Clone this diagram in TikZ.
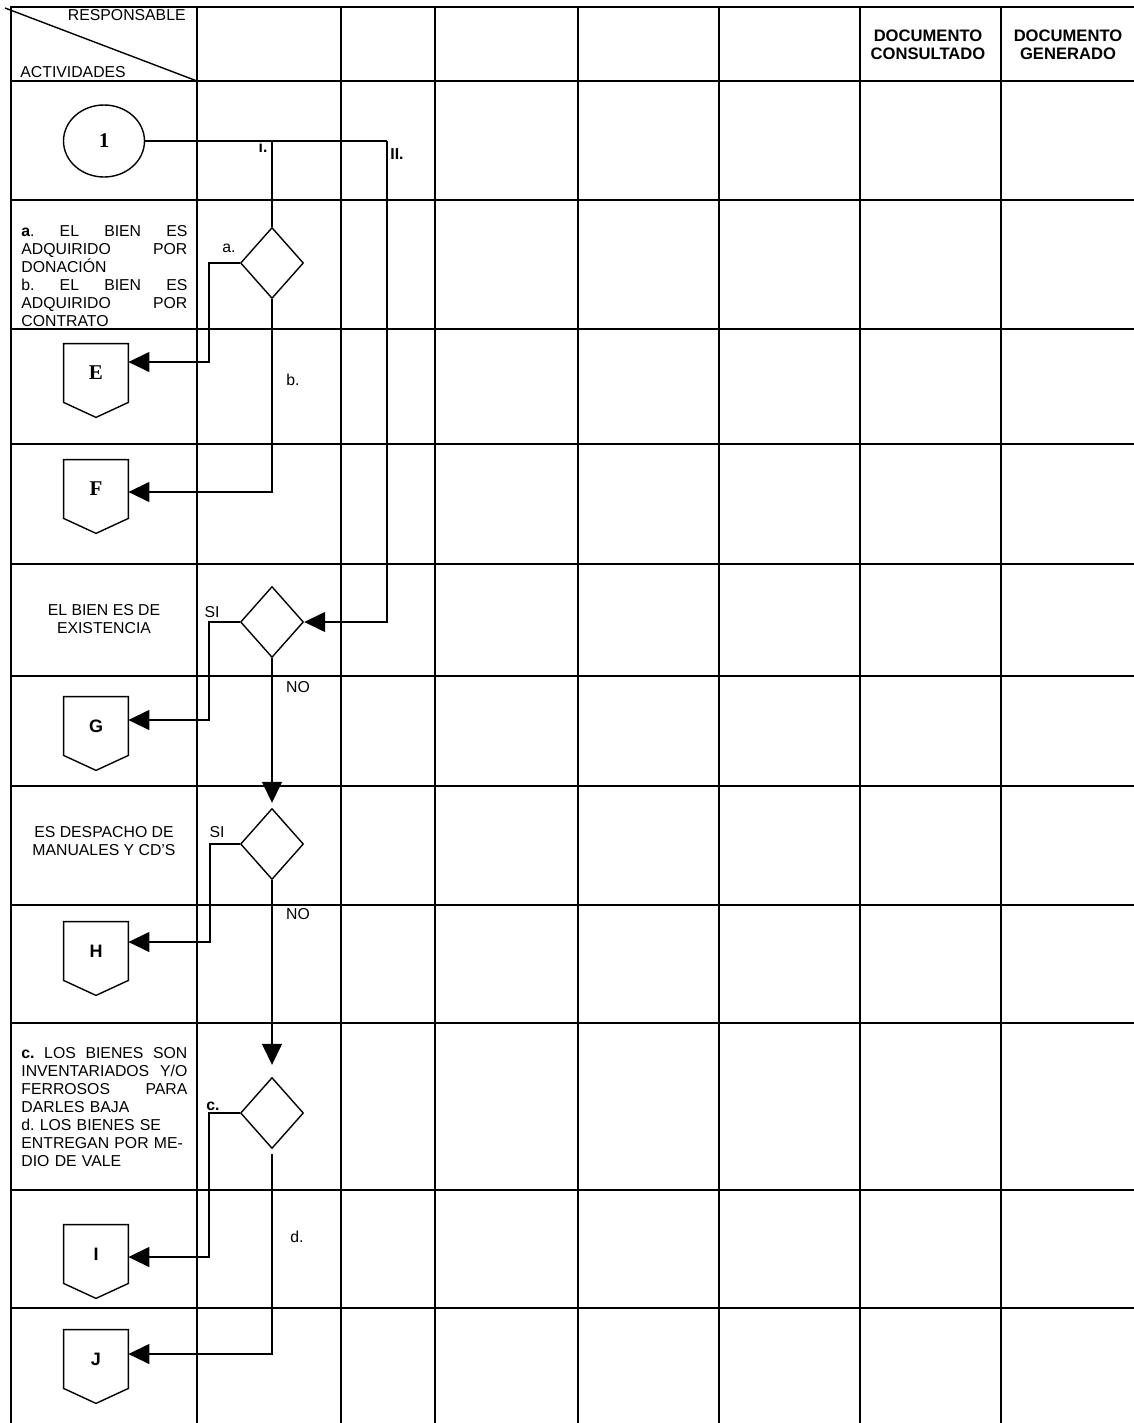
\documentclass[tikz,border=0pt]{standalone}
\usepackage{fontspec}
\setmainfont{Liberation Sans}
\newfontfamily\tnr{Liberation Serif}
\usetikzlibrary{shapes.geometric,arrows.meta}

\tikzset{
  grid/.style={line width=1.1pt},
  flow/.style={line width=0.7pt},
  arr/.style={flow,-{Triangle[length=10.5pt,width=10pt]}},
  decide/.style={diamond,draw,flow,minimum width=31.5pt,minimum height=35.5pt,inner sep=0pt},
  offbox/.style={minimum width=32pt,minimum height=29pt,inner sep=0pt,font=\fontsize{9}{10}\selectfont\bfseries},
  boldtag/.style={font=\fontsize{7.9}{9}\selectfont\bfseries},
}
% off-page connector: box with a point underneath
\newcommand{\offpage}[3]{%
  \node[offbox] (#1) at (#2) {#3};
  \draw[flow] (#1.north west) -- (#1.north east) -- (#1.south east)
    -- ([yshift=-7.5pt]#1.south) -- (#1.south west) -- cycle;}

\begin{document}
\begin{tikzpicture}[x=0.5pt, y=-0.5pt, every node/.style={font=\fontsize{7.9}{9}\selectfont, inner sep=0pt}]
\clip (0,0) rectangle (1134,1423);
% table
\foreach \y in {7,81,200,329,444,564,676,786,905,1023,1190,1308}
  \draw[grid] (10.5,\y) -- (1140,\y);
\foreach \x in {11,197,341,435,578,719,860,1001}
  \draw[grid] (\x,6.5) -- (\x,1430);
\draw[flow] (5,8) -- (197,81);
\node[anchor=east] (resp) at (186,15) {RESPONSABLE};
\node[anchor=west] (act) at (20,72) {ACTIVIDADES};
\node[align=center,font=\fontsize{8.3}{9}\selectfont\bfseries] (dcons) at (928,45) {DOCUMENTO\\CONSULTADO};
\node[align=center,font=\fontsize{8.3}{9}\selectfont\bfseries] (dgen) at (1068,45) {DOCUMENTO\\GENERADO};

% activities
\node[anchor=north west,text width=83pt,align=left] (ta) at (21,225)
  {\textbf{a}.\hfill EL\hfill BIEN\hfill ES\\ ADQUIRIDO\hfill POR\\ DONACIÓN\\
   b.\hfill EL\hfill BIEN\hfill ES\\ ADQUIRIDO\hfill POR\\ CONTRATO};
\node[align=center] (tb) at (104,619) {EL BIEN ES DE\\EXISTENCIA};
\node[align=center] (td) at (104,841) {ES DESPACHO DE\\MANUALES Y CD'S};
\node[anchor=north west,text width=83pt,align=left] (tc) at (21,1047)
  {\textbf{c.}\hfill LOS\hfill BIENES\hfill SON\\ INVENTARIADOS\hfill Y/O\\
   FERROSOS\hfill PARA\\ DARLES BAJA\\ d.\ LOS BIENES SE\\ ENTREGAN POR ME-\\ DIO DE VALE};

% flow
\node[ellipse,draw,flow,minimum width=40.5pt,minimum height=36pt,font=\tnr\bfseries\fontsize{10.5}{11}\selectfont] (c1) at (104,141) {1};
\node[decide] (d1) at (272,263) {};
\node[decide] (d2) at (272,622) {};
\node[decide] (d3) at (272,844) {};
\node[decide] (d4) at (272,1113) {};
\offpage{E}{96,373}{\tnr\fontsize{10.5}{11}\selectfont E}
\offpage{F}{96,489}{\tnr\fontsize{10.5}{11}\selectfont F}
\offpage{G}{96,726}{G}
\offpage{H}{96,951}{H}
\offpage{I}{96,1254}{I}
\offpage{J}{96,1359}{J}

\coordinate (j2) at (387,141);
\draw[flow] (c1.east) -- (j2);
\draw[flow] (d1.north |- c1.east) -- (d1.north);
\draw[arr] (j2) |- (d2.east);
\coordinate (kE) at (209,362);
\draw[arr] (d1.west) -| (kE) -- (E.east |- kE);
\coordinate (kF) at (272,492);
\draw[arr] (d1.south) -- (kF) -- (F.east |- kF);
\coordinate (kG) at (209,720);
\draw[arr] (d2.west) -| (kG) -- (G.east |- kG);
\draw[arr,shorten >=2.5pt] (d2.south) -- (d3.north);
\coordinate (kH) at (210,942);
\draw[arr] (d3.west) -| (kH) -- (H.east |- kH);
\draw[arr,shorten >=6pt] (d3.south) -- (d4.north);
\coordinate (kI) at (209,1257);
\draw[arr] (d4.west) -| (kI) -- (I.east |- kI);
\coordinate (kJ) at (272,1354);
\draw[arr,shorten <=2.5pt] (d4.south) -- (kJ) -- (J.east |- kJ);

% branch labels
\node[boldtag] (li) at (263,147) {i.};
\node[boldtag] (lii) at (397,154) {II.};
\node (la) at (229,248) {a.};
\node (lb) at (293,380) {b.};
\node (si1) at (212,612) {SI};
\node (no1) at (298,687) {NO};
\node (si2) at (217,832) {SI};
\node (no2) at (298,914) {NO};
\node[boldtag] (lc) at (213,1106) {c.};
\node (ld) at (297,1237) {d.};
\end{tikzpicture}
\end{document}
